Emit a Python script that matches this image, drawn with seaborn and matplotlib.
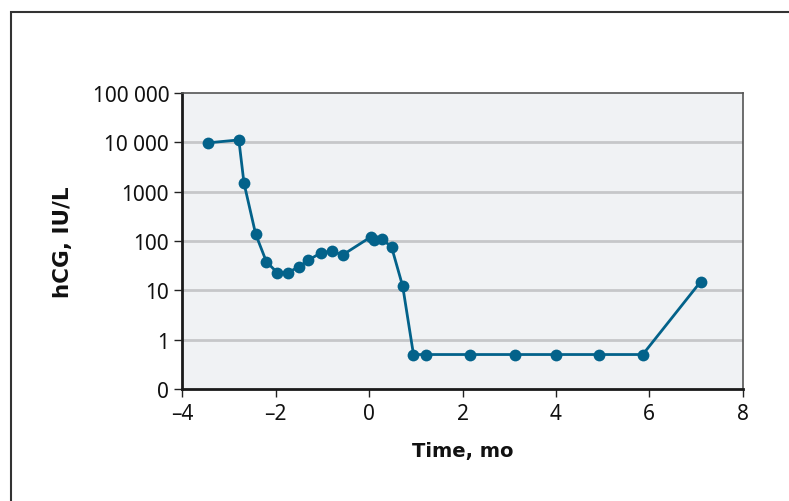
import matplotlib
matplotlib.use("Agg")
from matplotlib import pyplot as plt
from matplotlib.patches import Rectangle
import seaborn as sns
import pandas as pd

# values
TIME_MO = [-3.44, -2.79, -2.68, -2.43, -2.20, -1.97, -1.74, -1.50, -1.30, -1.04, -0.80, -0.57,
           0.03, 0.10, 0.27, 0.48, 0.72, 0.95, 1.22, 2.15, 3.12, 4.00, 4.93, 5.86, 7.10]
HCG = [9800, 11200, 1500, 138, 38, 23, 23, 30, 41, 57, 63, 52,
       120, 105, 110, 76, 12, 0.5, 0.5, 0.5, 0.5, 0.5, 0.5, 0.5, 15]
Y_TICKS = [0.1, 1, 10, 100, 1000, 10000, 100000]
Y_LABELS = ["0", "1", "10", "100", "1000", "10 000", "100 000"]
X_TICKS = [-4, -2, 0, 2, 4, 6, 8]
X_LABELS = ["\u20134", "\u20132", "0", "2", "4", "6", "8"]

LINE = "#03628a"

sns.set_style("ticks")
plt.rcParams['font.family'] = ['Noto Sans', 'DejaVu Sans']

df = pd.DataFrame({"time": TIME_MO, "hcg": HCG})

fig = plt.figure(figsize=(7.89, 5.02), dpi=100)
# outer frame box around the figure
fig.patches.append(Rectangle((11 / 789, -0.1), 1.2, 1 - 13 / 502 + 0.1, transform=fig.transFigure,
                             fill=False, edgecolor="#333333", linewidth=1.5, zorder=0))
ax = fig.add_axes([0.2311, 0.2231, 0.9413 - 0.2311, 0.8127 - 0.2231])
ax.set_facecolor("#f0f2f4")

ax.set_yscale("log")
ax.set_ylim(0.1, 100000)
ax.set_xlim(-4, 8)
for v in Y_TICKS[1:-1]:
    ax.axhline(v, color="#c6c7c9", linewidth=2, zorder=1)

sns.lineplot(data=df, x="time", y="hcg", ax=ax, color=LINE, linewidth=2, marker="o",
             markersize=8.5, markeredgewidth=0, zorder=3)

ax.set_yticks(Y_TICKS)
ax.set_yticklabels(Y_LABELS)
ax.yaxis.set_minor_locator(matplotlib.ticker.NullLocator())
ax.set_xticks(X_TICKS)
ax.set_xticklabels(X_LABELS)
ax.tick_params(axis="both", labelsize=15, color="#222222", length=6, width=1, labelcolor="#111111")
ax.tick_params(axis="x", pad=4)

for side in ["left", "bottom"]:
    ax.spines[side].set_linewidth(2)
    ax.spines[side].set_color("#1a1a1a")
for side in ["top", "right"]:
    ax.spines[side].set_visible(True)
    ax.spines[side].set_linewidth(1.2)
    ax.spines[side].set_color("#555555")

ax.set_xlabel("Time, mo", fontsize=14, fontweight="bold", family=["DejaVu Sans"],
              labelpad=12, color="#111111")
ax.set_ylabel("hCG, IU/L", fontsize=15.5, fontweight="bold", family=["DejaVu Sans"],
              labelpad=14, color="#111111")

plt.savefig("out.png", dpi=100)
